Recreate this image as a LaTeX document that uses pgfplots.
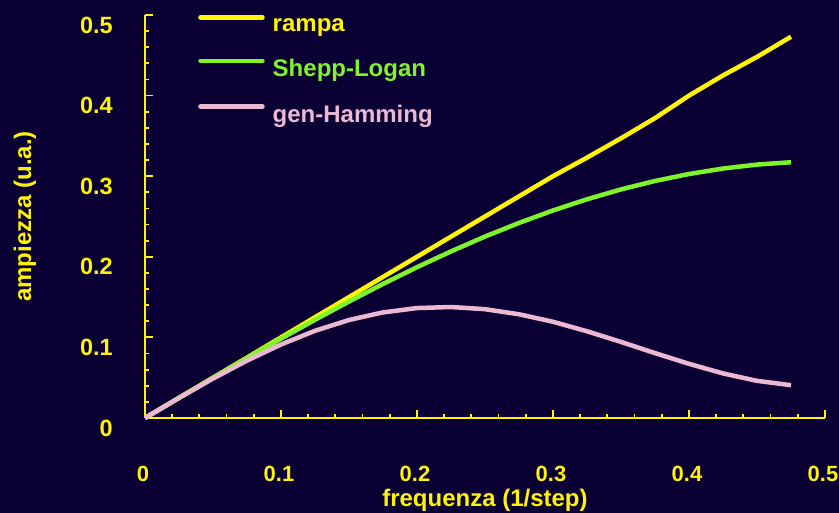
\documentclass[border=0pt]{standalone}
\usepackage{pgfplots}
\pgfplotsset{compat=1.18}
\usepackage{fontspec}
\setmainfont{Liberation Sans}
\definecolor{bg}{RGB}{10,0,52}
\definecolor{ylw}{RGB}{255,245,0}
\definecolor{grn}{RGB}{125,245,40}
\definecolor{pnk}{RGB}{235,185,212}
\pgfplotstableread{
f     rampa   shepp   hamming
0     0       0       0
0.025 0.025   0.0250  0.0249
0.05  0.050   0.0498  0.0489
0.075 0.075   0.0743  0.0712
0.1   0.100   0.0984  0.0912
0.125 0.125   0.1218  0.1082
0.15  0.150   0.1445  0.1216
0.175 0.175   0.1663  0.1310
0.2   0.200   0.1871  0.1364
0.225 0.225   0.2067  0.1377
0.25  0.250   0.2251  0.1350
0.275 0.275   0.2420  0.1287
0.3   0.300   0.2575  0.1194
0.325 0.323   0.2714  0.1076
0.35  0.347   0.2836  0.0944
0.375 0.372   0.2941  0.0805
0.4   0.400   0.3027  0.0672
0.425 0.425   0.3095  0.0553
0.45  0.448   0.3144  0.0461
0.475 0.473   0.3173  0.0407
}\datatable
\begin{document}
\begin{tikzpicture}
\fill[bg] (0pt,0pt) rectangle (839pt,513pt);
\useasboundingbox (0pt,0pt) rectangle (839pt,513pt);
\begin{axis}[
  at={(145pt,95pt)}, anchor=south west,
  scale only axis, width=680pt, height=403pt,
  xmin=0, xmax=0.5, ymin=0, ymax=0.5,
  axis x line=bottom, axis y line=left,
  axis line style={-, ylw, line width=1.8pt},
  xtick={0,0.1,0.2,0.3,0.4,0.5},
  ytick={0,0.1,0.2,0.3,0.4,0.5},
  minor tick num=4,
  tick align=inside,
  major tick length=8pt, minor tick length=4pt,
  every tick/.style={ylw, line width=1.8pt},
  /pgf/number format/assume math mode=true,
  tick label style={text=ylw, inner sep=0pt},
  xticklabel style={font=\fontsize{22}{26}\selectfont\bfseries, anchor=center, yshift=-56pt, xshift=-2pt},
  yticklabel style={font=\fontsize{23.5}{27}\selectfont\bfseries, anchor=east, xshift=-32pt, yshift=-10pt},
  xlabel={frequenza (1/step)},
  ylabel={ampiezza (u.a.)},
  label style={font=\fontsize{24}{28}\selectfont\bfseries, text=ylw},
  xlabel style={at={(axis description cs:0.5,0)}, anchor=center, yshift=-82pt},
  ylabel style={at={(axis description cs:-0.1765,0.5)}, anchor=center, rotate=0},
  legend style={at={(axis cs:0.039,0.5)}, anchor=north west, draw=none, fill=none,
    inner sep=0pt, row sep=26pt,
    font=\fontsize{24}{28}\selectfont\bfseries,
    nodes={inner sep=0pt, anchor=west},
    /tikz/every odd column/.append style={column sep=8pt}},
  legend cell align=left,
  legend image code/.code={\draw[#1, line width=4.5pt, line cap=round] (0pt,8pt) -- (62pt,8pt);},
  clip=false,
]
\addplot[ylw, line width=4.5pt] table[x=f, y=rampa] {\datatable};
\addlegendentry{\textcolor{ylw}{rampa}}
\addplot[grn, line width=4.5pt] table[x=f, y=shepp] {\datatable};
\addlegendentry{\textcolor{grn}{Shepp-Logan}}
\addplot[pnk, line width=4.5pt] table[x=f, y=hamming] {\datatable};
\addlegendentry{\textcolor{pnk}{gen-Hamming}}
\end{axis}
\end{tikzpicture}
\end{document}
